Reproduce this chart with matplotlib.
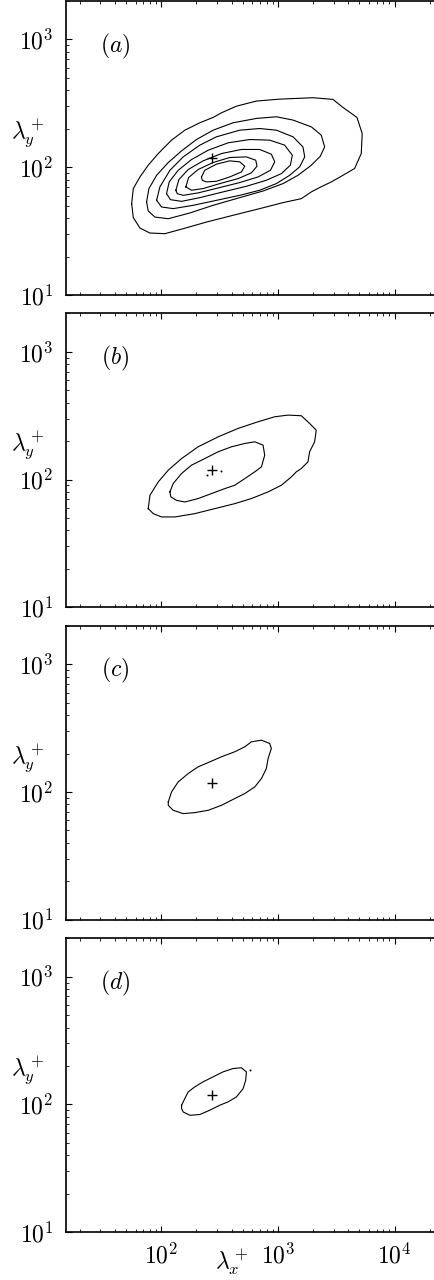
import numpy as np
import matplotlib
matplotlib.use("Agg")
import matplotlib.pyplot as plt
import matplotlib.transforms as mtransforms
from matplotlib.ticker import NullFormatter

plt.rcParams['mathtext.fontset'] = 'cm'
plt.rcParams['font.family'] = ['DejaVu Serif']

# ---------------- data (log10 of lambda_x^+, lambda_y^+) ----------------
panel_labels = [r'$(a)$', r'$(b)$', r'$(c)$', r'$(d)$']
xtick_vals = [1e2, 1e3, 1e4]
xtick_labels = [r'$10^2$', r'$10^3$', r'$10^4$']
ytick_vals = [1e1, 1e2, 1e3]
ytick_labels = [r'$10^1$', r'$10^2$', r'$10^3$']

peak_lx = 270.0
peak_ly = 118.0

# panel (a): seven contour levels
a1_x = [1.745,1.759,1.816,1.887,1.973,2.087,2.201,2.330,2.444,2.515,2.644,2.815,3.015,3.300,3.471,3.557,3.677,3.722,3.714,3.657,3.557,3.457,3.357,3.286,3.200,3.043,2.843,2.615,2.387,2.187,2.030,1.902,1.816,1.759]
a1_y = [1.715,1.833,1.924,2.016,2.107,2.212,2.290,2.348,2.390,2.426,2.478,2.518,2.533,2.544,2.531,2.468,2.390,2.264,2.107,1.990,1.937,1.885,1.841,1.807,1.754,1.723,1.676,1.624,1.571,1.519,1.480,1.485,1.524,1.605]
a2_x = [1.873,1.893,1.959,2.059,2.173,2.301,2.444,2.615,2.815,2.986,3.129,3.286,3.371,3.400,3.363,3.286,3.172,3.043,2.872,2.672,2.444,2.244,2.059,1.944,1.887]
a2_y = [1.728,1.833,1.937,2.037,2.128,2.217,2.290,2.348,2.382,2.395,2.369,2.316,2.251,2.159,2.086,2.016,1.937,1.872,1.814,1.762,1.702,1.642,1.597,1.610,1.658]
a3_x = [1.959,1.987,2.073,2.187,2.330,2.472,2.672,2.843,2.986,3.129,3.214,3.229,3.186,3.100,2.986,2.843,2.672,2.472,2.273,2.101,2.001]
a3_y = [1.741,1.846,1.976,2.081,2.173,2.238,2.290,2.303,2.290,2.238,2.159,2.081,2.003,1.937,1.872,1.820,1.780,1.741,1.702,1.676,1.689]
a4_x = [2.044,2.067,2.144,2.258,2.401,2.572,2.758,2.929,3.057,3.123,3.106,3.029,2.900,2.729,2.529,2.330,2.173,2.078]
a4_y = [1.793,1.885,1.976,2.060,2.133,2.191,2.217,2.212,2.173,2.094,2.016,1.950,1.898,1.851,1.807,1.762,1.733,1.746]
a5_x = [2.124,2.150,2.230,2.358,2.515,2.686,2.843,2.943,2.972,2.935,2.829,2.672,2.487,2.315,2.187,2.136]
a5_y = [1.820,1.903,1.982,2.050,2.107,2.139,2.139,2.102,2.042,1.976,1.924,1.880,1.838,1.799,1.780,1.793]
a6_x = [2.210,2.233,2.315,2.444,2.586,2.729,2.809,2.820,2.772,2.658,2.501,2.358,2.258]
a6_y = [1.846,1.919,1.982,2.037,2.076,2.081,2.055,2.008,1.956,1.911,1.872,1.833,1.820]
a7_x = [2.344,2.372,2.472,2.586,2.672,2.715,2.686,2.586,2.472,2.387,2.350]
a7_y = [1.924,1.976,2.024,2.050,2.042,2.008,1.963,1.924,1.890,1.885,1.898]

# panel (b): two contour levels + small islands
b1_x = [1.887,1.902,1.973,2.059,2.173,2.315,2.487,2.658,2.829,2.972,3.086,3.200,3.271,3.328,3.314,3.271,3.257,3.200,3.157,3.114,3.029,2.915,2.772,2.629,2.458,2.287,2.116,2.001,1.930]
b1_y = [1.773,1.878,1.982,2.074,2.165,2.257,2.335,2.401,2.453,2.492,2.505,2.500,2.440,2.387,2.296,2.218,2.139,2.087,2.061,2.021,1.956,1.904,1.852,1.812,1.773,1.734,1.708,1.708,1.734]
b2_x = [2.073,2.101,2.173,2.258,2.372,2.487,2.601,2.715,2.801,2.872,2.886,2.858,2.801,2.715,2.629,2.544,2.430,2.315,2.201,2.130,2.081]
b2_y = [1.904,1.969,2.048,2.113,2.165,2.218,2.257,2.283,2.296,2.270,2.191,2.100,2.061,2.008,1.956,1.930,1.891,1.852,1.825,1.838,1.865]
b_dots_x = [2.390, 2.509]
b_dots_y = [2.040, 2.066]

# panel (c): one contour level
c1_x = [2.059,2.087,2.144,2.230,2.315,2.415,2.515,2.629,2.715,2.772,2.858,2.929,2.943,2.915,2.900,2.858,2.801,2.715,2.629,2.515,2.401,2.287,2.187,2.101,2.059]
c1_y = [1.923,2.001,2.079,2.145,2.197,2.236,2.276,2.315,2.354,2.393,2.406,2.380,2.341,2.262,2.184,2.106,2.040,1.988,1.949,1.896,1.857,1.839,1.831,1.857,1.896]

# panel (d): one contour level + island
d1_x = [2.173,2.201,2.230,2.287,2.358,2.444,2.529,2.615,2.686,2.729,2.723,2.701,2.644,2.572,2.501,2.415,2.330,2.244,2.187,2.173]
d1_y = [1.994,2.046,2.098,2.138,2.177,2.216,2.255,2.281,2.287,2.255,2.190,2.124,2.059,2.020,1.994,1.955,1.921,1.915,1.941,1.968]
d_dots_x = [2.758]
d_dots_y = [2.268]

panel_contours = [
    [(a1_x, a1_y), (a2_x, a2_y), (a3_x, a3_y), (a4_x, a4_y), (a5_x, a5_y), (a6_x, a6_y), (a7_x, a7_y)],
    [(b1_x, b1_y), (b2_x, b2_y)],
    [(c1_x, c1_y)],
    [(d1_x, d1_y)],
]
panel_dots = [None, (b_dots_x, b_dots_y), None, (d_dots_x, d_dots_y)]

# ---------------- figure ----------------
W, H = 435, 1280
fig = plt.figure(figsize=(W / 100, H / 100), dpi=100)

left = 66 / W
width = 375 / W
height = 294 / H
pitch = 312.4

for k in range(4):
    bottom = 1 - (295 + pitch * k) / H
    ax = fig.add_axes([left, bottom, width, height])
    ax.set_xscale('log')
    ax.set_yscale('log')

    for cx, cy in panel_contours[k]:
        xs = np.power(10.0, np.r_[cx, cx[:1]])
        ys = np.power(10.0, np.r_[cy, cy[:1]])
        ax.plot(xs, ys, color='k', lw=0.8)
    if panel_dots[k] is not None:
        dx, dy = panel_dots[k]
        ax.plot(np.power(10.0, dx), np.power(10.0, dy), ls='none', marker='o',
                ms=1.4, color='k', mew=0)
    ax.plot([peak_lx], [peak_ly], marker='+', ms=7, mew=1.0, color='k', ls='none')

    ax.set_xlim(15.2, 2.5e4)
    ax.set_ylim(10, 2000)

    ax.set_yticks(ytick_vals)
    ax.set_yticklabels(ytick_labels, fontsize=17)
    ax.set_xticks(xtick_vals)
    if k == 3:
        ax.set_xticklabels(xtick_labels, fontsize=17)
        offset = mtransforms.ScaledTranslation(-4 / 100, 0, fig.dpi_scale_trans)
        for lab in ax.get_xticklabels():
            lab.set_transform(lab.get_transform() + offset)
    else:
        ax.set_xticklabels([])
    ax.xaxis.set_minor_formatter(NullFormatter())
    ax.yaxis.set_minor_formatter(NullFormatter())

    ax.tick_params(which='both', direction='in', top=True, right=True)
    ax.tick_params(which='major', length=4, width=0.8)
    ax.tick_params(which='minor', length=2.2, width=0.6)
    ax.tick_params(axis='y', which='major', pad=9)
    ax.tick_params(axis='x', which='major', pad=8)
    for s in ax.spines.values():
        s.set_linewidth(1.2)

    ax.text(0.132, 0.847, panel_labels[k], transform=ax.transAxes,
            ha='center', va='center', fontsize=17)
    ax.text(-0.102, 0.548, r'$\lambda_y^+$', transform=ax.transAxes,
            ha='center', va='center', fontsize=17)

fig.text(232 / W, 0.002, r'$\lambda_x^+$', ha='center', va='bottom', fontsize=17)

fig.savefig('out.png', dpi=100)
